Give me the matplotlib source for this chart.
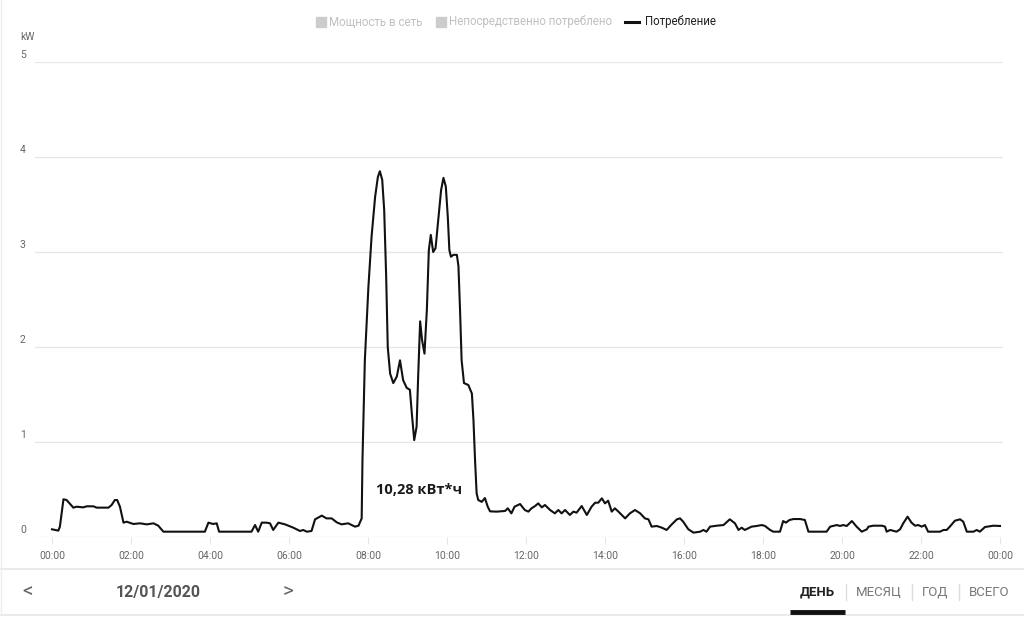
import numpy as np
import matplotlib
matplotlib.use('Agg')
import matplotlib.pyplot as plt

# hours of the day and consumption in kW
hours = [0.0, 0.16, 0.20, 0.29, 0.37, 0.54, 0.62, 0.79, 0.88, 1.05, 1.13, 1.43, 1.51, 1.59, 1.65, 1.72,
         1.81, 1.89, 2.06, 2.23, 2.40, 2.57, 2.69, 2.82, 3.87, 3.96, 4.08, 4.17, 4.23, 5.05, 5.14, 5.22,
         5.31, 5.43, 5.52, 5.60, 5.73, 5.90, 6.11, 6.28, 6.36, 6.45, 6.57, 6.66, 6.83, 6.95, 7.08, 7.21,
         7.33, 7.50, 7.67, 7.76, 7.84,
         7.86, 7.92, 8.01, 8.09, 8.18, 8.25, 8.30, 8.36, 8.41, 8.46, 8.50, 8.56, 8.64, 8.73, 8.81, 8.89,
         8.98, 9.06, 9.11, 9.17, 9.23, 9.27, 9.32, 9.37, 9.43, 9.49, 9.54, 9.59, 9.65, 9.71, 9.78, 9.85,
         9.91, 9.97, 10.02, 10.06, 10.10, 10.16, 10.25, 10.29, 10.33, 10.37, 10.43, 10.54, 10.63, 10.67,
         10.71, 10.75, 10.79, 10.88, 10.96, 11.03, 11.09,
         11.26, 11.47, 11.54, 11.63,
         11.71, 11.85, 11.97, 12.06, 12.14, 12.23, 12.31, 12.40, 12.48, 12.61, 12.73, 12.82, 12.90, 12.99,
         13.11, 13.20, 13.28, 13.41, 13.54, 13.66, 13.75, 13.83, 13.92, 14.00, 14.08, 14.17, 14.25, 14.34,
         14.51, 14.63, 14.76, 14.89, 15.01, 15.10, 15.18, 15.31, 15.44, 15.56, 15.69, 15.82, 15.90, 15.98,
         16.11, 16.24, 16.41, 16.49, 16.57, 16.66, 16.83, 17.00, 17.16, 17.29, 17.38, 17.46, 17.54, 17.71,
         17.84, 17.97, 18.05, 18.18, 18.26, 18.43, 18.51, 18.58, 18.67, 18.77, 18.94, 19.06, 19.15, 19.61,
         19.70, 19.87, 19.95, 20.03, 20.12, 20.25, 20.37, 20.50, 20.63, 20.67, 20.79, 21.01, 21.09, 21.13,
         21.22, 21.38, 21.47, 21.55, 21.66, 21.76, 21.85, 21.93, 22.02, 22.10, 22.18, 22.48, 22.57, 22.65,
         22.73, 22.86, 22.99, 23.07, 23.16, 23.33, 23.41, 23.49, 23.62, 23.83, 23.96, 24.0]
kw = [0.081, 0.067, 0.109, 0.397, 0.389, 0.309, 0.319, 0.312, 0.323, 0.323, 0.309, 0.309, 0.337, 0.389, 0.389, 0.319,
      0.151, 0.161, 0.137, 0.144, 0.133, 0.144, 0.119, 0.056, 0.056, 0.151, 0.137, 0.144, 0.056, 0.056, 0.126, 0.056,
      0.151, 0.151, 0.144, 0.074, 0.151, 0.133, 0.098, 0.063, 0.074, 0.056, 0.063, 0.186, 0.225, 0.196, 0.196, 0.154,
      0.133, 0.144, 0.109, 0.119, 0.196,
      0.81, 1.86, 2.63, 3.16, 3.58, 3.79, 3.85, 3.76, 3.44, 2.74, 2.00, 1.72, 1.62, 1.69, 1.86, 1.65,
      1.57, 1.55, 1.30, 1.02, 1.16, 1.69, 2.27, 2.07, 1.93, 2.39, 3.02, 3.18, 3.00, 3.04, 3.34, 3.65,
      3.78, 3.69, 3.37, 3.02, 2.95, 2.97, 2.97, 2.85, 2.39, 1.86, 1.62, 1.60, 1.51, 1.23,
      0.81, 0.46, 0.39, 0.37, 0.41, 0.32, 0.27,
      0.267, 0.274, 0.302, 0.249,
      0.319, 0.347, 0.284, 0.267, 0.302, 0.326, 0.354, 0.312, 0.337, 0.284, 0.249, 0.284, 0.249, 0.284,
      0.232, 0.267, 0.256, 0.326, 0.232, 0.319, 0.361, 0.361, 0.407, 0.354, 0.382, 0.267, 0.302, 0.267,
      0.196, 0.249, 0.284, 0.249, 0.196, 0.186, 0.109, 0.116, 0.098, 0.074, 0.133, 0.186, 0.196, 0.161,
      0.081, 0.046, 0.056, 0.074, 0.056, 0.109, 0.119, 0.126, 0.186, 0.144, 0.074, 0.098, 0.074, 0.109,
      0.116, 0.126, 0.116, 0.074, 0.056, 0.056, 0.168, 0.151, 0.179, 0.189, 0.189, 0.179, 0.056, 0.056,
      0.109, 0.126, 0.116, 0.126, 0.116, 0.168, 0.109, 0.056, 0.081, 0.109, 0.119, 0.119, 0.109, 0.056,
      0.074, 0.056, 0.081, 0.144, 0.214, 0.151, 0.119, 0.126, 0.109, 0.126, 0.056, 0.056, 0.074, 0.074,
      0.109, 0.172, 0.186, 0.161, 0.056, 0.056, 0.074, 0.056, 0.105, 0.119, 0.116, 0.116]

x_ticks = np.arange(0, 25, 2)
x_labels = ['00:00', '02:00', '04:00', '06:00', '08:00', '10:00', '12:00',
            '14:00', '16:00', '18:00', '20:00', '22:00', '00:00']
y_ticks = [0, 1, 2, 3, 4, 5]
legend_names = ['Мощность в сеть', 'Непосредственно потреблено', 'Потребление']
total_text = '10,28 кВт*ч'
date_text = '12/01/2020'
periods = ['ДЕНЬ', 'МЕСЯЦ', 'ГОД', 'ВСЕГО']

W, H = 1024, 617
plt.rcParams['font.family'] = ['Roboto', 'DejaVu Sans']

fig = plt.figure(figsize=(W / 100, H / 100), dpi=100)


def fx(px):
    return px / W


def fy(py):
    return 1 - py / H


# axes: 0 kW line at y=537px, 5 kW at 62px; 00:00 at x=52px, 24:00 at 1000px
x0 = -17 / 39.5
x1 = 24 + 3 / 39.5
ax = fig.add_axes([fx(35), fy(537), fx(1003) - fx(35), fy(62) - fy(537)])
ax.set_xlim(x0, x1)
ax.set_ylim(0, 5)
for s in ax.spines.values():
    s.set_visible(False)
for v in y_ticks:
    ax.axhline(v, color='#e6e6e6', lw=0.9, zorder=0)
    ax.annotate(str(v), xy=(0, v), xycoords=('figure fraction', 'data'),
                xytext=(20, 7), textcoords='offset pixels',
                fontsize=7.5, color='#666666', ha='left', va='center')
ax.set_yticks([])
ax.set_xticks(x_ticks)
ax.set_xticklabels(x_labels, fontsize=7.5, color='#666666')
ax.tick_params(axis='x', length=5, width=0.8, color='#e6e6e6', pad=5)

ax.plot(hours, kw, color='#111111', lw=1.5, solid_joinstyle='round', zorder=3)

ax.text(9.29, 0.5, total_text, fontsize=10.5, fontweight='bold', family=['Open Sans', 'DejaVu Sans'],
        color='#1a1a1a', ha='center', va='center')

fig.text(fx(20), fy(37), 'kW', fontsize=7.5, color='#666666', ha='left', va='center')

# legend
sq = 10
for px, name, col in [(316, legend_names[0], '#cccccc'), (436, legend_names[1], '#cccccc')]:
    fig.patches.append(plt.Rectangle((fx(px), fy(27)), sq / W, sq / H, transform=fig.transFigure,
                                     color=col, zorder=2))
    fig.text(fx(px + 13), fy(22), name, fontsize=8.3, color='#c0c0c0', ha='left', va='center')
fig.lines.append(plt.Line2D([fx(625), fx(639)], [fy(22), fy(22)], transform=fig.transFigure,
                            color='#111111', lw=2.2))
fig.text(fx(645), fy(22), legend_names[2], fontsize=8.3, color='#222222', ha='left', va='center')

# separators of the bottom bar
fig.lines.append(plt.Line2D([0, 1], [fy(569), fy(569)], transform=fig.transFigure, color='#e8e8e8', lw=1.2))
fig.lines.append(plt.Line2D([0, 1], [fy(614.5), fy(614.5)], transform=fig.transFigure, color='#e8e8e8', lw=1.2))
fig.lines.append(plt.Line2D([fx(0.5), fx(0.5)], [fy(0), fy(615)], transform=fig.transFigure, color='#eeeeee', lw=1))

fig.text(fx(28), fy(592), '<', fontsize=15, color='#666666', ha='center', va='center')
fig.text(fx(288), fy(592), '>', fontsize=15, color='#666666', ha='center', va='center')
fig.text(fx(158), fy(592), date_text, fontsize=11.5, fontweight='bold', color='#555555',
         ha='center', va='center')

centers = [817, 879, 935, 989]
for i, (cx, name) in enumerate(zip(centers, periods)):
    fig.text(fx(cx), fy(592), name, fontsize=9.5, color='#222222' if i == 0 else '#777777',
             fontweight='bold' if i == 0 else 'normal', ha='center', va='center')
for sx in [846, 912, 959]:
    fig.lines.append(plt.Line2D([fx(sx), fx(sx)], [fy(584), fy(600)], transform=fig.transFigure,
                                color='#dddddd', lw=1))
fig.lines.append(plt.Line2D([fx(790), fx(845)], [fy(612), fy(612)], transform=fig.transFigure,
                            color='#111111', lw=3.5, solid_capstyle='butt'))

fig.savefig('out.png', dpi=100)
